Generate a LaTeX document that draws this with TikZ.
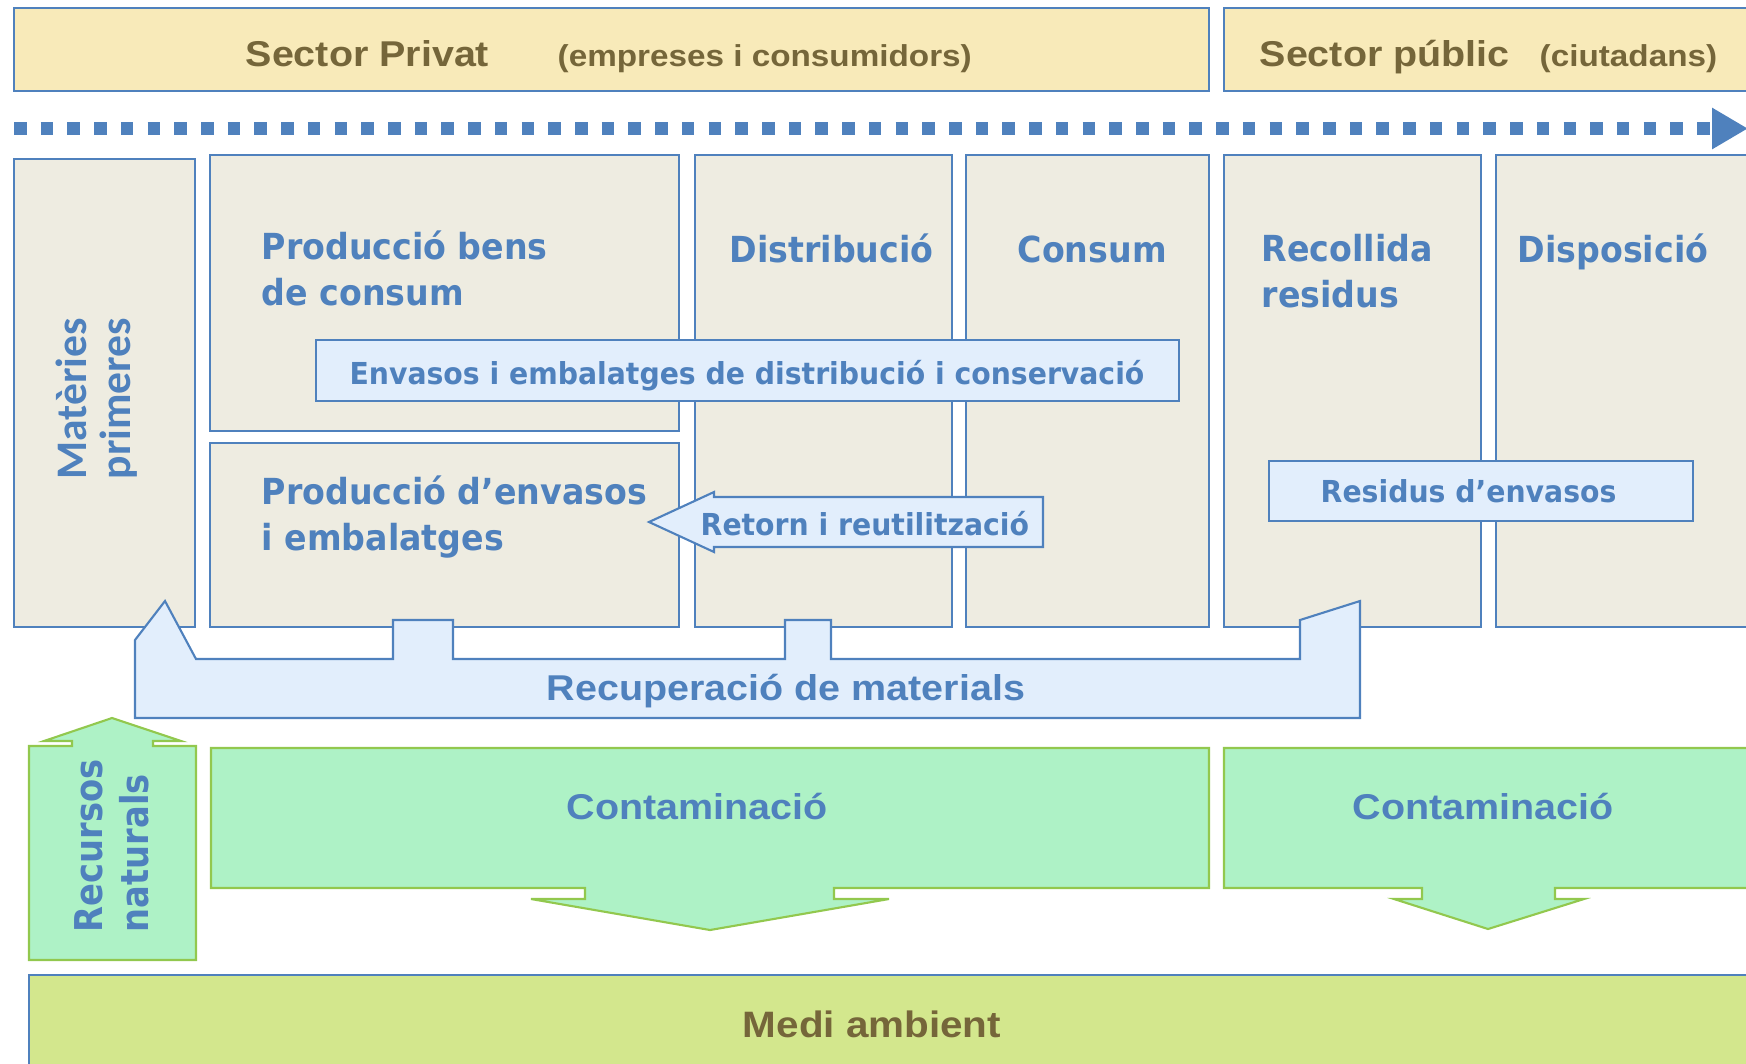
\documentclass[tikz,border=0pt]{standalone}
\usepackage{fontspec}
\usepackage{tikz}
\usetikzlibrary{fit,arrows.meta}

\newfontfamily\headfont[FakeStretch=1.1]{Liberation Sans Bold}
\newfontfamily\boxfont[FakeStretch=1.03]{DejaVu Sans Condensed Bold}
\newfontfamily\labelfont[FakeStretch=1.04]{DejaVu Sans Condensed Bold}
\newfontfamily\sidefont{Carlito Bold}
\newfontfamily\resfont[FakeStretch=0.88]{DejaVu Sans Bold}

\definecolor{cblue}{HTML}{4F81BD}
\definecolor{cbrown}{HTML}{75663A}
\definecolor{cyellow}{HTML}{F8EAB9}
\definecolor{ctan}{HTML}{EEECE1}
\definecolor{clight}{HTML}{E2EEFC}
\definecolor{cgreen}{HTML}{AEF2C6}
\definecolor{cgreenline}{HTML}{92C84E}
\definecolor{colive}{HTML}{D3E78D}

\tikzstyle{sector} = [draw=cblue, fill=cyellow, line width=0.6pt, inner sep=0pt]
\tikzstyle{stage} = [draw=cblue, fill=ctan, line width=0.6pt, inner sep=0pt]
\tikzstyle{flowbox} = [draw=cblue, fill=clight, line width=0.6pt, inner sep=0pt]
\tikzstyle{ecoshape} = [draw=cgreenline, fill=cgreen, line width=0.6pt]
\tikzstyle{flowline} = [draw=cblue, line width=0.13cm, dash pattern=on 0.125cm off 0.142cm,
    -{Triangle[length=0.36cm, width=0.39cm]}]
\tikzstyle{headtxt} = [font=\headfont\fontsize{10.2}{12}\selectfont, text=cbrown, inner sep=0pt]
\tikzstyle{subtxt} = [font=\headfont\fontsize{8.6}{10}\selectfont, text=cbrown, inner sep=0pt]
\tikzstyle{bigtxt} = [font=\headfont\fontsize{10.2}{12}\selectfont, text=cblue, inner sep=0pt]
\tikzstyle{stagetxt} = [font=\boxfont\fontsize{10.2}{12.95}\selectfont, text=cblue, inner sep=0pt, align=left]
\tikzstyle{flowtxt} = [font=\labelfont\fontsize{8.6}{10}\selectfont, text=cblue, inner sep=0pt]

\begin{document}
\begin{tikzpicture}[x=0.01cm, y=-0.01cm]
    \useasboundingbox (0,0) rectangle (1746,1063);
    \clip (0,0) rectangle (1746,1063);

    % sectors
    \node[sector, fit={(14,8) (1209,91)}] (privat) {};
    \node[sector, fit={(1224,8) (1760,91)}] (public) {};
    \node[headtxt, anchor=base west] (privattxt) at (245,66) {Sector Privat};
    \node[subtxt, anchor=base west] (privatsub) at (557,66) {(empreses i consumidors)};
    \node[headtxt, anchor=base west] (publictxt) at (1259,66) {Sector públic};
    \node[subtxt, anchor=base west] (publicsub) at (1539,66) {(ciutadans)};

    % flow of time
    \coordinate (flowstart) at (14,128.5);
    \coordinate (flowend) at (1748,128.5);
    \draw[flowline] (flowstart) -- (flowend);

    % stages
    \node[stage, fit={(14,159) (195,627)}] (matprim) {};
    \node[stage, fit={(210,155) (679,431)}] (prodbens) {};
    \node[stage, fit={(210,443) (679,627)}] (prodenv) {};
    \node[stage, fit={(695,155) (952,627)}] (distrib) {};
    \node[stage, fit={(966,155) (1209,627)}] (consum) {};
    \node[stage, fit={(1224,155) (1481,627)}] (recoll) {};
    \node[stage, fit={(1496,155) (1760,627)}] (dispos) {};

    % multi-line nodes: base is on the last line
    \node[font=\sidefont\fontsize{12.4}{12.5}\selectfont, text=cblue, inner sep=0pt,
        align=left, rotate=90, anchor=base west] (mattxt) at (130,480) {Matèries\\primeres};
    \node[stagetxt, anchor=base west] (prodbenstxt) at (261,305) {Producció bens\\de consum};
    \node[stagetxt, anchor=base west] (prodenvtxt) at (261,550) {Producció d’envasos\\i embalatges};
    \node[stagetxt, anchor=base west] (distribtxt) at (729,262) {Distribució};
    \node[stagetxt, anchor=base west] (consumtxt) at (1017,262) {Consum};
    \node[stagetxt, anchor=base west] (recolltxt) at (1261,307) {Recollida\\residus};
    \node[stagetxt, anchor=base west] (dispostxt) at (1517,262) {Disposició};

    % packaging flows
    \node[flowbox, fit={(316,340) (1179,401)}] (envbox) {};
    \node[flowtxt, anchor=base] (envtxt) at (747,384) {Envasos i embalatges de distribució i conservació};
    \draw[flowbox] (649,522) -- (714,492) -- (714,497) -- (1043,497) -- (1043,547)
        -- (714,547) -- (714,552) -- cycle;
    \node[flowtxt, anchor=base west] (retorntxt) at (700,535) {Retorn i reutilització};
    \node[flowbox, fit={(1269,461) (1693,521)}] (resbox) {};
    \node[flowtxt, anchor=base west] (restxt) at (1320,502) {Residus d’envasos};

    % recovery
    \draw[flowbox] (135,718) -- (135,640) -- (165,601) -- (196,659) -- (393,659) -- (393,620)
        -- (453,620) -- (453,659) -- (785,659) -- (785,620) -- (831,620) -- (831,659)
        -- (1300,659) -- (1300,620) -- (1360,601) -- (1360,718) -- cycle;
    \node[bigtxt, anchor=base] (recuptxt) at (786,700) {Recuperació de materials};

    % natural resources
    \draw[ecoshape] (29,960) -- (29,746) -- (72,746) -- (72,741) -- (44,741) -- (112,718)
        -- (181,741) -- (153,741) -- (153,746) -- (196,746) -- (196,960) -- cycle;
    \node[font=\resfont\fontsize{10.9}{12.8}\selectfont, text=cblue, inner sep=0pt,
        align=left, rotate=90, anchor=base west] (recurstxt) at (148,933) {Recursos\\naturals};

    % pollution
    \draw[ecoshape] (211,748) -- (1209,748) -- (1209,888) -- (834,888) -- (834,899) -- (889,899)
        -- (710,930) -- (531,899) -- (585,899) -- (585,888) -- (211,888) -- cycle;
    \draw[ecoshape] (1224,748) -- (1760,748) -- (1760,888) -- (1555,888) -- (1555,899) -- (1584,899)
        -- (1488,929) -- (1394,899) -- (1422,899) -- (1422,888) -- (1224,888) -- cycle;
    \node[bigtxt, anchor=base] (cont1txt) at (697,819) {Contaminació};
    \node[bigtxt, anchor=base] (cont2txt) at (1483,819) {Contaminació};

    % environment
    \node[draw=cblue, fill=colive, line width=0.6pt, inner sep=0pt, fit={(29,975) (1760,1070)}] (medi) {};
    \node[headtxt, font=\headfont\fontsize{10.45}{12}\selectfont, anchor=base] (meditxt) at (872,1037) {Medi ambient};
\end{tikzpicture}
\end{document}
